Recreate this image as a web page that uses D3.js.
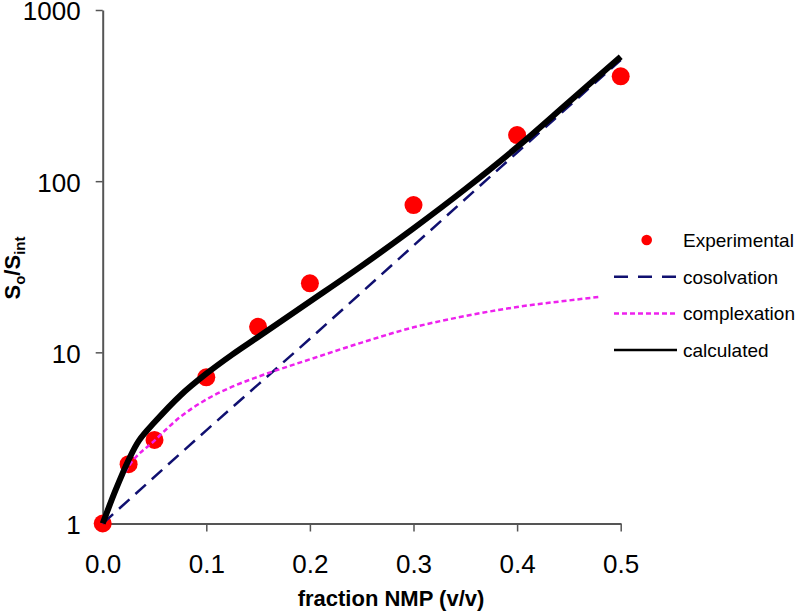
<!DOCTYPE html>
<html>
<head>
<meta charset="utf-8">
<script src="https://cdn.jsdelivr.net/npm/d3@7"></script>
<style>
  html, body { margin: 0; padding: 0; background: #fff; }
  svg { display: block; font-family: Arial, "Liberation Sans", sans-serif; }
</style>
</head>
<body>
<svg id="chart" width="799" height="613"></svg>
<script>
// ---- data ----
const xTicks = [0, 0.1, 0.2, 0.3, 0.4, 0.5];
const xTickLabels = ["0.0", "0.1", "0.2", "0.3", "0.4", "0.5"];
const yTicks = [1, 10, 100, 1000];
const yTickLabels = ["1", "10", "100", "1000"];

const expX = [0, 0.025, 0.05, 0.1, 0.15, 0.2, 0.3, 0.4, 0.5];
const expY = [1, 2.22, 3.08, 7.15, 14.1, 25.3, 72.5, 186, 410];

const cosolX = [0, 0.1, 0.2, 0.3, 0.4, 0.5];
const cosolY = [1, 3.5, 12, 42, 147, 510];

const complexX = [0, 0.0125, 0.025, 0.05, 0.075, 0.1, 0.125, 0.15, 0.2, 0.25, 0.3, 0.35, 0.4, 0.45, 0.48];
const complexY = [1, 1.55, 2.15, 3.05, 4.2, 5.3, 6.3, 7.2, 9.1, 11.4, 14.0, 16.3, 18.4, 20.1, 21.1];

const calcX = [0, 0.0125, 0.025, 0.035, 0.05, 0.075, 0.1, 0.125, 0.15, 0.2, 0.25, 0.3, 0.35, 0.4, 0.45, 0.5];
const calcY = [1, 1.57, 2.35, 3.05, 3.9, 5.6, 7.5, 9.7, 12.3, 19.8, 32, 53, 90, 158, 290, 533];

const legendLabels = ["Experimental", "cosolvation", "complexation", "calculated"];

// ---- layout ----
const svg = d3.select("#chart");
const x = d3.scaleLinear().domain([0, 0.5]).range([102.7, 620.7]);
const y = d3.scaleLog().domain([1, 1000]).range([523.5, 10]);
const axisColor = "#555";

// axes
const xAxis = d3.axisBottom(x).tickValues(xTicks)
  .tickFormat((d, i) => xTickLabels[i]).tickSize(8).tickSizeOuter(0).tickPadding(23);
const gx = svg.append("g").attr("transform", `translate(0,${y(1)})`).call(xAxis);
const yAxis = d3.axisLeft(y).tickValues(yTicks)
  .tickFormat((d, i) => yTickLabels[i]).tickSize(7).tickSizeOuter(0).tickPadding(15);
const gy = svg.append("g").attr("transform", `translate(${x(0)},0)`).call(yAxis);

[gx, gy].forEach(g => {
  g.select(".domain").attr("stroke", axisColor).attr("stroke-width", 2);
  g.selectAll(".tick line").attr("stroke", axisColor).attr("stroke-width", 1.5);
  g.selectAll(".tick text").attr("fill", "#000").style("font-size", "26px")
    .style("font-family", 'Arial, "Liberation Sans", sans-serif');
});
gy.selectAll(".tick text").attr("dy", "0.38em");

// data points
const expData = expX.map((d, i) => ({x: d, y: expY[i]}));
svg.append("g").selectAll("circle").data(expData).join("circle")
  .attr("cx", d => x(d.x)).attr("cy", d => y(d.y)).attr("r", 9).attr("fill", "#ff0000");

// lines
const line = d3.line().x(d => x(d.x)).y(d => y(d.y)).curve(d3.curveMonotoneX);
const smoothLine = d3.line().x(d => x(d.x)).y(d => y(d.y)).curve(d3.curveCatmullRom.alpha(0.5));
const toPts = (xs, ys) => xs.map((d, i) => ({x: d, y: ys[i]}));

svg.append("path").datum(toPts(cosolX, cosolY)).attr("d", line)
  .attr("fill", "none").attr("stroke", "#101070").attr("stroke-width", 2.5)
  .attr("stroke-dasharray", "14,8");
svg.append("path").datum(toPts(complexX, complexY)).attr("d", line)
  .attr("fill", "none").attr("stroke", "#ee22ee").attr("stroke-width", 2.5)
  .attr("stroke-dasharray", "5,3");
svg.append("path").datum(toPts(calcX, calcY)).attr("d", smoothLine)
  .attr("fill", "none").attr("stroke", "#000").attr("stroke-width", 6)
  .attr("stroke-linejoin", "round");

// axis titles
svg.append("text").attr("x", 391).attr("y", 606).attr("text-anchor", "middle")
  .style("font-size", "22px").style("font-weight", "bold").text("fraction NMP (v/v)");

const yl = svg.append("text").attr("transform", "translate(20,268) rotate(-90)")
  .attr("text-anchor", "middle").style("font-size", "22px").style("font-weight", "bold");
yl.append("tspan").text("S");
yl.append("tspan").attr("dy", 5).style("font-size", "15px").text("o");
yl.append("tspan").attr("dy", -5).text("/S");
yl.append("tspan").attr("dy", 5).style("font-size", "15px").text("int");

// legend
const legY0 = 240, legDy = 36.7;
const lg = svg.append("g");
legendLabels.forEach((lab, i) => {
  const yy = legY0 + i * legDy;
  if (i === 0) {
    lg.append("circle").attr("cx", 646.7).attr("cy", yy).attr("r", 5.3).attr("fill", "#ff0000");
  } else {
    const ln = lg.append("line").attr("x1", 614).attr("x2", 677).attr("y1", yy).attr("y2", yy)
      .attr("stroke-width", 2.5);
    if (i === 1) ln.attr("stroke", "#101070").attr("stroke-dasharray", "14,10");
    if (i === 2) ln.attr("stroke", "#ee22ee").attr("stroke-dasharray", "5,3");
    if (i === 3) ln.attr("stroke", "#000");
  }
  lg.append("text").attr("x", 683).attr("y", yy).attr("dy", "0.36em")
    .style("font-size", "19px").text(lab);
});
</script>
</body>
</html>
